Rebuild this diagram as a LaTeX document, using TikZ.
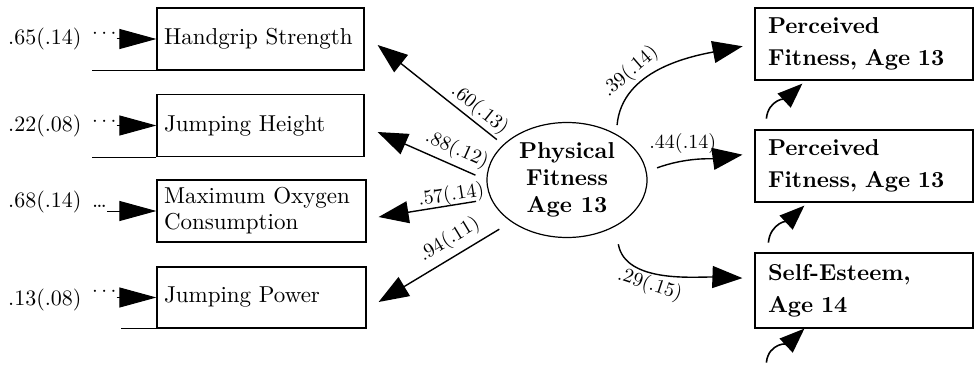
\documentclass[tikz,border=0pt]{standalone}
\usepackage{fontspec}
\setmainfont{lmroman10-regular.otf}[BoldFont=lmroman10-bold.otf]
\usepackage{tikz}
\usetikzlibrary{calc,positioning,shapes.geometric,arrows.meta}

\begin{document}
\begin{tikzpicture}[x=1pt,y=1pt,
  font=\fontsize{23}{26}\selectfont,
  obs/.style={draw,line width=1.2pt,minimum height=62pt,text width=193pt,inner xsep=7pt,align=left},
  outc/.style={draw,line width=1.2pt,text width=192pt,inner xsep=13pt,align=left,font=\fontsize{23}{32}\selectfont\bfseries},
  lat/.style={ellipse,draw,line width=1.2pt,minimum width=160pt,minimum height=115pt,inner sep=0pt,align=center,font=\fontsize{23}{27}\selectfont\bfseries},
  err/.style={anchor=base west,inner sep=0pt,font=\fontsize{22}{24}\selectfont},
  coef/.style={font=\fontsize{20}{22}\selectfont,inner sep=2pt},
  load/.style={line width=1.4pt,-{Triangle[length=30pt,width=22pt]}},
  errarr/.style={line width=1pt,-{Triangle[length=37pt,width=20pt]}},
  resid/.style={line width=1.6pt,-{Triangle[length=25pt,width=19pt]}}
]
  \useasboundingbox (0,0) rectangle (975,373);
  % indicators
  \node[obs] (hand) at (260.5,334) {Handgrip Strength};
  \node[obs] (jumph) at (260.5,247.5) {Jumping Height};
  \node[obs,text width=195pt] (maxox) at (261.5,162) {Maximum Oxygen\\Consumption};
  \node[obs,text width=195pt,minimum height=61pt] (jumpp) at (261.5,75.5) {Jumping Power};
  \draw[line width=1.2pt] (hand.south west) -- ++(-64,0);
  \draw[line width=1.2pt] (jumph.south west) -- ++(-64,0);
  \draw[line width=1.2pt] (jumpp.south west) -- ++(-35,0);
  % error terms
  \node[err] (e1) at (8,328) {.65(.14)};
  \node[err] (d1) at (92,334) {$\cdots$};
  \node[err] (e2) at (8,241) {.22(.08)};
  \node[err] (d2) at (92,247) {$\cdots$};
  \node[err] (e3) at (8,166) {.68(.14)};
  \node[err] (d3) at (92,166) {\ldots};
  \node[err] (e4) at (8,68) {.13(.08)};
  \node[err] (d4) at (92,76.5) {$\cdots$};
  \draw[errarr] (d1.east |- hand.west) -- (hand.west);
  \draw[errarr] (d2.east |- jumph.west) -- (jumph.west);
  \draw[errarr] (d3.east |- maxox.west) -- (maxox.west);
  \draw[errarr] (d4.east |- jumpp.west) -- (jumpp.west);
  % latent factor
  \node[lat] (pf) at (567,193) {Physical\\Fitness\\Age 13};
  % outcomes
  \node[outc,minimum height=72pt] (pf1) at (864,329) {Perceived\\Fitness, Age 13};
  \node[outc,minimum height=72pt] (pf2) at (864,207) {Perceived\\Fitness, Age 13};
  \node[outc,minimum height=75pt] (se) at (864,82.5) {Self-Esteem,\\Age 14};
  % loadings
  \draw[load,shorten <=8pt] (pf.151) -- ($(hand.east)+(13,-6)$) node[coef,pos=.25,sloped,above] {.60(.13)};
  \draw[load,shorten <=12pt] (pf.180) -- ($(jumph.east)+(13,-6.5)$) node[coef,pos=.33,sloped,above=3pt] {.88(.12)};
  \draw[load,shorten <=15pt] (pf.194) -- ($(maxox.east)+(12,-6)$) node[coef,pos=.34,sloped,above=-3pt] {.57(.14)};
  \draw[load,shorten <=14pt] (pf.217) -- ($(jumpp.east)+(12,-4.5)$) node[coef,pos=.4,sloped,above=4pt] {.94(.11)};
  % paths to outcomes
  \draw[load,shorten <=9pt,shorten >=12pt] (pf.43) to[out=85,in=191] node[coef,pos=.34,sloped,above=4pt] {.39(.14)} (pf1.west);
  \draw[load,shorten <=11pt,shorten >=12pt] (pf.6) to[out=20,in=188] node[coef,pos=.33,above=5pt] {.44(.14)} ($(pf2.west)+(0,13)$);
  \draw[load,shorten <=18pt,shorten >=12pt] (pf.316) to[out=-80,in=178] node[coef,pos=.42,sloped,below=3pt] {.29(.15)} ($(se.west)+(0,12)$);
  % residuals
  \coordinate (r1) at ($(pf1.south west)+(12,-38)$);
  \coordinate (r2) at ($(pf2.south west)+(14,-40)$);
  \coordinate (r3) at ($(se.south west)+(12,-34)$);
  \draw[resid] (r1) to[out=85,in=223] ($(pf1.south west)+(48,-3)$);
  \draw[resid] (r2) to[out=85,in=223] ($(pf2.south west)+(50,-3)$);
  \draw[resid] (r3) to[out=85,in=223] ($(se.south west)+(50,0)$);
\end{tikzpicture}
\end{document}
